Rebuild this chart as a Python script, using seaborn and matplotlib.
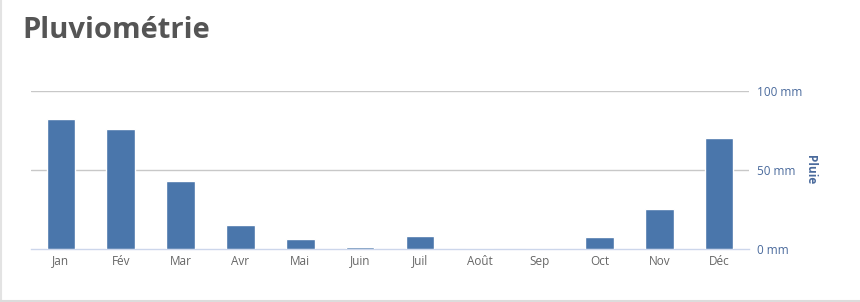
import matplotlib
matplotlib.use("Agg")
import matplotlib.pyplot as plt
import seaborn as sns
import pandas as pd
import numpy as np
from matplotlib.lines import Line2D

months = ["Jan", "Fév", "Mar", "Avr", "Mai", "Juin", "Juil", "Août", "Sep", "Oct", "Nov", "Déc"]
rain_mm = [82, 76, 43, 15, 6.5, 1, 8.5, 0, 0, 7.5, 25.5, 70]
y_ticks = [0, 50, 100]
y_tick_labels = ["0 mm", "50 mm", "100 mm"]

sns.set_theme(style="white")
plt.rcParams['font.family'] = ['Open Sans', 'DejaVu Sans']

df = pd.DataFrame({"mois": months, "pluie": rain_mm})

fig = plt.figure(figsize=(8.6, 3.02), dpi=100)
ax = fig.add_axes([31/860, 1-249/302, (749-31)/860, (249-91)/302])

sns.barplot(data=df, x="mois", y="pluie", color="#4a76ab", saturation=1, width=0.48, ax=ax, zorder=3)

ax.set_ylim(0, 100)
ax.set_xlim(-0.5, len(months)-0.5)
for y in y_ticks[1:]:
    ax.axhline(y, color="#c8c8c8", lw=1, zorder=1)

ax.yaxis.tick_right()
ax.set_yticks(y_ticks)
ax.set_yticklabels(y_tick_labels, color="#4a6a9c", fontsize=8.5)
ax.tick_params(axis="y", length=0, pad=6)
ax.set_ylabel("")
fig.text(811/860, 1-170/302, "Pluie", rotation=270, color="#4a6a9c", fontsize=8.5,
         fontweight="bold", ha="center", va="center")

ax.set_xlabel("")
ax.set_xticks(np.arange(len(months)))
ax.set_xticklabels(months, color="#666666", fontsize=8.5)
ax.tick_params(axis="x", length=0, pad=4)
ax.set_xticks(np.arange(len(months)+1)-0.5, minor=True)
ax.tick_params(axis="x", which="minor", length=5, color="#ccd6eb", width=1, direction="out")

for s in ["top", "left", "right"]:
    ax.spines[s].set_visible(False)
ax.spines["bottom"].set_color("#ccd6eb")
ax.spines["bottom"].set_linewidth(1)

fig.text(22/860, 1-30/302, "Pluviométrie", fontsize=21, fontweight="bold", color="#555555", va="center", ha="left")

fig.lines.append(Line2D([0.8/860, 0.8/860], [0, 1], transform=fig.transFigure, color="#e3e3e3", lw=1.5))
fig.lines.append(Line2D([0, 1], [1/302, 1/302], transform=fig.transFigure, color="#dcdcdc", lw=1.5))

fig.savefig("out.png", dpi=100)
